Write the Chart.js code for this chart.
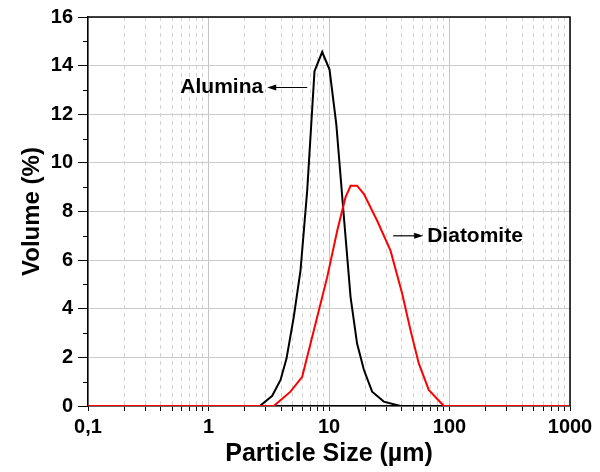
<!DOCTYPE html>
<html>
<head>
<meta charset="utf-8">
<script src="https://cdn.jsdelivr.net/npm/chart.js@4"></script>
<style>
  html, body { margin: 0; padding: 0; background: #ffffff; }
  #wrap { width: 600px; height: 472px; }
</style>
</head>
<body>
<div id="wrap"><canvas id="c" width="600" height="472"></canvas></div>
<script>
// ---- data ----
const aluminaSize   = [0.1, 2.67, 3.38, 3.96, 4.44, 5.1, 5.8, 6.59, 7.58, 8.78, 10.1, 11.5, 13.3, 15.1, 17.1, 19.5, 22.8, 28.5, 39.2, 1000];
const aluminaVolume = [0, 0, 0.42, 1.07, 1.95, 3.66, 5.57, 8.85, 13.77, 14.56, 13.84, 11.58, 7.76, 4.48, 2.57, 1.48, 0.59, 0.18, 0, 0];

const diatomiteSize   = [0.1, 3.48, 4.79, 5.99, 7.48, 9.66, 11.7, 13.7, 15.1, 17.1, 19.5, 25.1, 32.4, 40.5, 47.5, 55.6, 67.3, 89.7, 1000];
const diatomiteVolume = [0, 0, 0.59, 1.2, 3.11, 5.3, 7.21, 8.58, 9.06, 9.06, 8.72, 7.62, 6.39, 4.62, 3.11, 1.75, 0.66, 0, 0];

const xDecades = [0.1, 1, 10, 100, 1000];
const xTickLabels = ['0,1', '1', '10', '100', '1000'];
const yTickValues = [0, 2, 4, 6, 8, 10, 12, 14, 16];
const yMinorTicks = [1, 3, 5, 7, 9, 11, 13, 15];

const seriesNames = ['Alumina', 'Diatomite'];
// annotation: label, arrow tail x, arrow head x, y (data units)
const annotationAlumina   = ['Alumina', 6.6, 3.07, 13.1];
const annotationDiatomite = ['Diatomite', 34.1, 60.5, 7.0];

// ---- build ----
function pairs(xs, ys) { return xs.map((x, i) => ({ x: x, y: ys[i] })); }

const xTickValues = [];
for (let d = 0; d < xDecades.length - 1; d++) {
  for (let m = 1; m <= 9; m++) xTickValues.push(+(xDecades[d] * m).toPrecision(6));
}
xTickValues.push(xDecades[xDecades.length - 1]);

function isDecade(v) {
  return xDecades.some(d => Math.abs(d - v) / d < 1e-6);
}

const FONT = "'Liberation Sans', Arial, Helvetica, sans-serif";
Chart.defaults.font.family = FONT;
Chart.defaults.font.weight = 'bold';
Chart.defaults.color = '#000000';

const decorPlugin = {
  id: 'decor',
  afterDraw(chart) {
    const ctx = chart.ctx;
    const a = chart.chartArea;
    const xs = chart.scales.x, ys = chart.scales.y;
    ctx.save();
    // frame top & right
    ctx.strokeStyle = '#000000';
    ctx.lineWidth = 1.5;
    ctx.beginPath();
    ctx.moveTo(a.left, a.top);
    ctx.lineTo(a.right, a.top);
    ctx.lineTo(a.right, a.bottom);
    ctx.stroke();
    // minor y ticks
    ctx.lineWidth = 1;
    ctx.beginPath();
    yMinorTicks.forEach(v => {
      const p = Math.round(ys.getPixelForValue(v)) + 0.5;
      ctx.moveTo(a.left - 5, p);
      ctx.lineTo(a.left, p);
    });
    ctx.stroke();
    // annotations
    [annotationAlumina, annotationDiatomite].forEach(an => {
      const x0 = xs.getPixelForValue(an[1]);
      const x1 = xs.getPixelForValue(an[2]);
      const y = ys.getPixelForValue(an[3]);
      const dir = x1 > x0 ? 1 : -1;
      ctx.strokeStyle = '#000';
      ctx.fillStyle = '#000';
      ctx.lineWidth = 1.2;
      ctx.beginPath();
      ctx.moveTo(x0, y);
      ctx.lineTo(x1 - dir * 6, y);
      ctx.stroke();
      ctx.beginPath();
      ctx.moveTo(x1, y);
      ctx.lineTo(x1 - dir * 9, y - 3);
      ctx.lineTo(x1 - dir * 9, y + 3);
      ctx.closePath();
      ctx.fill();
      ctx.font = 'bold 21px ' + FONT;
      ctx.textBaseline = 'middle';
      if (dir < 0) {
        ctx.textAlign = 'right';
        ctx.fillText(an[0], x1 - 4, y);
      } else {
        ctx.textAlign = 'left';
        ctx.fillText(an[0], x1 + 4, y);
      }
    });
    ctx.restore();
  }
};

new Chart(document.getElementById('c'), {
  type: 'line',
  data: {
    datasets: [
      {
        label: seriesNames[0],
        data: pairs(aluminaSize, aluminaVolume),
        borderColor: '#000000',
        borderWidth: 2,
        pointRadius: 0,
        tension: 0,
        fill: false,
        order: 1
      },
      {
        label: seriesNames[1],
        data: pairs(diatomiteSize, diatomiteVolume),
        borderColor: '#ff0000',
        borderWidth: 2,
        pointRadius: 0,
        tension: 0,
        fill: false,
        order: 0
      }
    ]
  },
  options: {
    responsive: false,
    animation: false,
    events: [],
    layout: { padding: { top: 16, right: 30, left: 0, bottom: 0 } },
    plugins: { legend: { display: false }, tooltip: { enabled: false } },
    scales: {
      x: {
        type: 'logarithmic',
        min: 0.1,
        max: 1000,
        afterBuildTicks(scale) {
          scale.ticks = xTickValues.map(v => ({ value: v, major: isDecade(v) }));
        },
        afterFit(scale) { scale.height = 66; },
        ticks: {
          autoSkip: false,
          maxRotation: 0,
          minRotation: 0,
          padding: 4,
          color: '#000',
          font: { size: 20, weight: 'bold' },
          callback(value) {
            const i = xDecades.findIndex(d => Math.abs(d - value) / d < 1e-6);
            return i >= 0 ? xTickLabels[i] : '';
          }
        },
        grid: {
          color(ctx) {
            if (!ctx.tick) return '#c8c8c8';
            return isDecade(ctx.tick.value) ? '#c4c4c4' : '#d2d2d2';
          },
          lineWidth: 1,
          drawTicks: true,
          tickLength: 5,
          tickColor: '#000000',
          tickWidth: 1
        },
        border: {
          display: true,
          color: '#000000',
          width: 1.5,
          dash(ctx) {
            if (!ctx.tick) return [];
            return isDecade(ctx.tick.value) ? [] : [4, 4];
          }
        },
        title: {
          display: true,
          text: 'Particle Size (µm)',
          color: '#000',
          font: { size: 25, weight: 'bold' },
          padding: { top: 0, bottom: 3 }
        }
      },
      y: {
        min: 0,
        max: 16,
        afterBuildTicks(scale) {
          scale.ticks = yTickValues.map(v => ({ value: v }));
        },
        afterFit(scale) { scale.width = 88; },
        ticks: {
          padding: 5,
          color: '#000',
          font: { size: 20, weight: 'bold' },
          callback(value) { return String(value); }
        },
        grid: {
          color: '#cccccc',
          lineWidth: 1,
          drawTicks: true,
          tickLength: 10,
          tickColor: '#000000',
          tickWidth: 1
        },
        border: { display: true, color: '#000000', width: 1.5 },
        title: {
          display: true,
          text: 'Volume (%)',
          color: '#000',
          font: { size: 24, weight: 'bold' },
          padding: { top: 18, bottom: 0 }
        }
      }
    }
  },
  plugins: [decorPlugin]
});
</script>
</body>
</html>
